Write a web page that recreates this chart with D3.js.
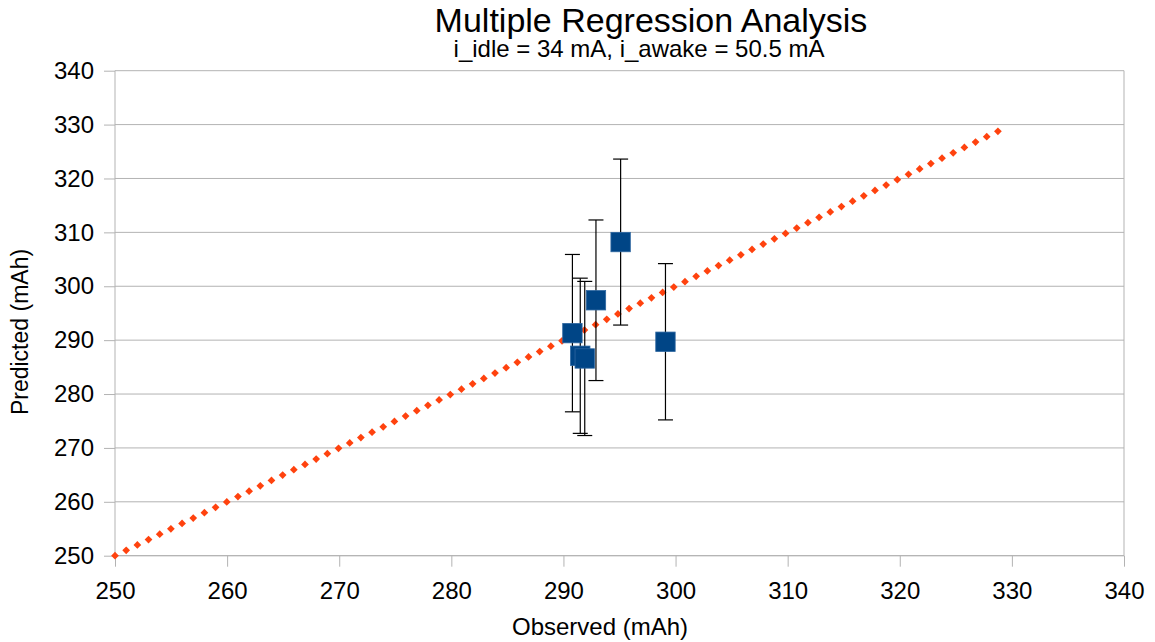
<!DOCTYPE html>
<html>
<head>
<meta charset="utf-8">
<script src="https://cdn.jsdelivr.net/npm/d3@7"></script>
<style>
  html, body { margin: 0; padding: 0; background: #fff; }
  svg { display: block; font-family: "Liberation Sans", Arial, sans-serif; }
</style>
</head>
<body>
<svg id="chart" width="1155" height="642"></svg>
<script>
// ---- Data ----
const titleText = "Multiple Regression Analysis";
const subtitleText = "i_idle = 34 mA, i_awake = 50.5 mA";
const xAxisTitle = "Observed (mAh)";
const yAxisTitle = "Predicted (mAh)";

const xTicks = [250, 260, 270, 280, 290, 300, 310, 320, 330, 340];
const yTicks = [250, 260, 270, 280, 290, 300, 310, 320, 330, 340];

const observed  = [290.8, 291.5, 291.9, 292.9, 295.1, 299.1];
const predicted = [291.3, 287.1, 286.6, 297.4, 308.2, 289.7];
const errorBars = [14.6, 14.4, 14.3, 14.9, 15.4, 14.5];

const fitX = [250, 329];
const fitY = [250, 329];

// ---- Layout ----
const svg = d3.select("#chart");
const plotL = 115, plotR = 1124, plotT = 70.7, plotB = 555.7;

const x = d3.scaleLinear().domain([250, 340]).range([plotL, plotR]);
const y = d3.scaleLinear().domain([250, 340]).range([plotB, plotT]);

const gridColor = "#b3b3b3";

// Grid lines (horizontal)
svg.append("g").selectAll("line").data(yTicks).join("line")
  .attr("x1", plotL).attr("x2", plotR)
  .attr("y1", d => y(d)).attr("y2", d => y(d))
  .attr("stroke", gridColor).attr("stroke-width", 1);

// Right border
svg.append("line")
  .attr("x1", plotR).attr("x2", plotR)
  .attr("y1", plotT).attr("y2", plotB)
  .attr("stroke", gridColor);

// Y axis
const yAxis = d3.axisLeft(y).tickValues(yTicks).tickSize(11).tickPadding(10).tickFormat(d3.format("d"));
const gy = svg.append("g").attr("transform", `translate(${plotL},0)`).call(yAxis);
gy.select(".domain").attr("stroke", gridColor).attr("d", `M0,${plotB}V${plotT}`);
gy.selectAll(".tick line").attr("stroke", gridColor);
gy.selectAll(".tick text").attr("font-size", 24).attr("fill", "#000")
  .attr("font-family", "'Liberation Sans', Arial, sans-serif");

// X axis
const xAxis = d3.axisBottom(x).tickValues(xTicks).tickSize(11).tickPadding(15).tickFormat(d3.format("d"));
const gx = svg.append("g").attr("transform", `translate(0,${plotB})`).call(xAxis);
gx.select(".domain").attr("stroke", gridColor).attr("d", `M${plotL},0H${plotR}`);
gx.selectAll(".tick line").attr("stroke", gridColor);
gx.selectAll(".tick text").attr("font-size", 24).attr("fill", "#000")
  .attr("font-family", "'Liberation Sans', Arial, sans-serif");

// Regression line (dotted with diamonds)
const fitData = fitX.map((v, i) => [v, fitY[i]]);
const linePath = svg.append("path")
  .datum(fitData)
  .attr("d", d3.line().x(d => x(d[0])).y(d => y(d[1])))
  .attr("fill", "none").attr("stroke", "none");
const totalLen = linePath.node().getTotalLength();
const step = 12.4;
const nDots = Math.floor(totalLen / step);
const dotPos = d3.range(nDots + 1).map(i => linePath.node().getPointAtLength(Math.min(i * step, totalLen)));
svg.append("g").selectAll("path").data(dotPos).join("path")
  .attr("d", d3.symbol().type(d3.symbolSquare).size(30))
  .attr("transform", d => `translate(${d.x},${d.y}) rotate(45)`)
  .attr("fill", "#ff420e");

// Error bars
const pts = observed.map((o, i) => ({ o, p: predicted[i], e: errorBars[i] }));
const eb = svg.append("g").attr("stroke", "#000").attr("stroke-width", 1.2);
eb.selectAll("line.v").data(pts).join("line").attr("class", "v")
  .attr("x1", d => x(d.o)).attr("x2", d => x(d.o))
  .attr("y1", d => y(d.p + d.e)).attr("y2", d => y(d.p - d.e));
eb.selectAll("line.t").data(pts).join("line").attr("class", "t")
  .attr("x1", d => x(d.o) - 7.5).attr("x2", d => x(d.o) + 7.5)
  .attr("y1", d => y(d.p + d.e)).attr("y2", d => y(d.p + d.e));
eb.selectAll("line.b").data(pts).join("line").attr("class", "b")
  .attr("x1", d => x(d.o) - 7.5).attr("x2", d => x(d.o) + 7.5)
  .attr("y1", d => y(d.p - d.e)).attr("y2", d => y(d.p - d.e));

// Points
svg.append("g").selectAll("rect").data(pts).join("rect")
  .attr("x", d => x(d.o) - 9.7).attr("y", d => y(d.p) - 9.7)
  .attr("width", 19.4).attr("height", 19.4)
  .attr("fill", "#004586").attr("stroke", "#2d66a0").attr("stroke-width", 0.8);

// Titles
svg.append("text").attr("x", 651).attr("y", 32).attr("text-anchor", "middle")
  .attr("font-size", 34).attr("fill", "#000").text(titleText);
svg.append("text").attr("x", 639).attr("y", 57).attr("text-anchor", "middle")
  .attr("font-size", 24).attr("fill", "#000").text(subtitleText);

// Axis titles
svg.append("text").attr("x", 600).attr("y", 635).attr("text-anchor", "middle")
  .attr("font-size", 24).attr("fill", "#000").text(xAxisTitle);
svg.append("text").attr("transform", "translate(28,332) rotate(-90)").attr("text-anchor", "middle")
  .attr("font-size", 23).attr("fill", "#000").text(yAxisTitle);
</script>
</body>
</html>
